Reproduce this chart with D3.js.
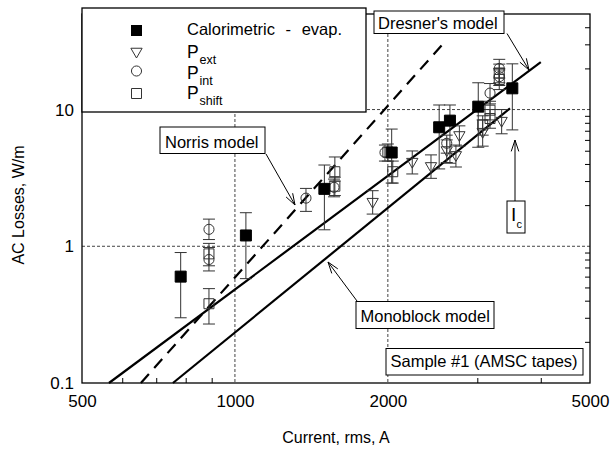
<!DOCTYPE html>
<html><head><meta charset="utf-8">
<script src="https://cdn.jsdelivr.net/npm/d3@7"></script>
<style>body{margin:0;background:#fff}svg{display:block}text{font-family:"Liberation Sans",Arial,sans-serif;fill:#000}</style>
</head><body><svg id="c" width="612" height="450"></svg>
<script>
// ---- data ----
const xTicks=[500,1000,2000,5000];
const yTicks=[0.1,1,10];
const xGrid=[1000,2000];
const yGrid=[1,10];
const xMinor=[600,700,800,900,3000,4000];
const yMinor=[0.2,0.3,0.4,0.5,0.6,0.7,0.8,0.9,2,3,4,5,6,7,8,9,20,30,40];

// Calorimetric - evap. (filled squares)
const calI =[782,1051,1500,2035,2524,2650,3013,3516];
const calP =[0.60,1.20,2.63,4.85,7.42,8.30,10.5,14.3];
const calLo=[0.30,0.58,1.32,2.90,3.68,4.05,5.30,7.10];
const calHi=[0.90,1.76,3.93,7.20,10.8,10.8,15.7,21.6];
// P_ext (triangles)
const extI =[1867,2234,2432,2612,2723,2766,3074,3350];
const extP =[2.12,4.16,3.87,5.06,4.66,6.52,6.89,8.30];
const extLo=[1.72,3.38,3.14,4.10,3.80,5.40,5.40,6.65];
const extHi=[2.55,4.98,4.66,6.00,5.50,7.60,8.40,10.0];
// P_int (circles)
const intI =[889,889,1380,1567,1974,2612,3178,3314,3314];
const intP =[1.33,0.80,2.25,2.70,4.85,5.67,13.2,17.4,20.0];
const intLo=[1.12,0.66,1.80,2.30,4.20,4.80,11.0,15.0,17.0];
const intHi=[1.58,0.98,2.65,3.10,5.50,6.50,15.5,20.0,23.3];
// P_shift (open squares)
const shfI =[889,889,1573,1573,2000,2045,3074,3178,3178,3314,3314];
const shfP =[0.88,0.38,3.51,2.75,4.90,3.51,7.71,9.90,8.60,18.5,16.6];
const shfLo=[0.72,0.27,3.00,2.35,4.20,2.90,6.50,8.40,7.30,15.7,14.0];
const shfHi=[1.05,0.49,4.50,3.20,5.60,4.20,9.00,11.5,10.0,21.5,19.5];

// model lines
const dresnerI=[565,4000], dresnerP=[0.1,22.2];
const monoI=[755,3479], monoP=[0.1,10.2];
const norrisI=[653,2591], norrisP=[0.1,31.4];

// ---- chart ----
const svg=d3.select("#c");
const L=82,R=590,T=14,B=383;
const x=d3.scaleLog().domain([500,5000]).range([L,R]);
const y=d3.scaleLog().domain([0.1,50]).range([B,T]);
const g=svg.append("g");

// grid
g.selectAll(".gx").data(xGrid).join("line").attr("x1",d=>x(d)).attr("x2",d=>x(d)).attr("y1",T).attr("y2",B)
 .attr("stroke","#444").attr("stroke-width",1).attr("stroke-dasharray","3,2");
g.selectAll(".gy").data(yGrid).join("line").attr("y1",d=>y(d)).attr("y2",d=>y(d)).attr("x1",L).attr("x2",R)
 .attr("stroke","#444").attr("stroke-width",1).attr("stroke-dasharray","3,2");

// model lines
const line=d3.line().x(d=>x(d[0])).y(d=>y(d[1]));
function modelLine(I,P,dash){
  g.append("path").attr("d",line(d3.zip(I,P))).attr("fill","none").attr("stroke","#000")
   .attr("stroke-width",2.2).attr("stroke-dasharray",dash||null);
}
modelLine(dresnerI,dresnerP);
modelLine(monoI,monoP);
modelLine(norrisI,norrisP,"12,8");

// error bars + markers
function series(I,P,Lo,Hi,sym,size,fill,rot){
  const d=I.map((v,i)=>({i:v,p:P[i],lo:Lo[i],hi:Hi[i]}));
  const eg=g.append("g").attr("stroke","#333").attr("stroke-width",1);
  d.forEach(o=>{
    eg.append("line").attr("x1",x(o.i)).attr("x2",x(o.i)).attr("y1",y(o.lo)).attr("y2",y(o.hi));
    [o.lo,o.hi].forEach(v=>eg.append("line").attr("x1",x(o.i)-6).attr("x2",x(o.i)+6).attr("y1",y(v)).attr("y2",y(v)));
  });
  g.append("g").selectAll("path").data(d).join("path")
   .attr("d",d3.symbol(sym,size))
   .attr("transform",o=>`translate(${x(o.i)},${y(o.p)})${rot?" rotate(180)":""}`)
   .attr("fill",fill?"#000":"none").attr("stroke",fill?"#000":"#333").attr("stroke-width",1);
}
series(shfI,shfP,shfLo,shfHi,d3.symbolSquare,100,false);
series(intI,intP,intLo,intHi,d3.symbolCircle,80,false);
series(extI,extP,extLo,extHi,d3.symbolTriangle,55,false,true);
series(calI,calP,calLo,calHi,d3.symbolSquare,121,true);

// frame
g.append("rect").attr("x",L).attr("y",T).attr("width",R-L).attr("height",B-T).attr("fill","none").attr("stroke","#000").attr("stroke-width",1.3);

// minor ticks
g.append("g").attr("transform",`translate(0,${B})`).call(d3.axisBottom(x).tickValues(xMinor).tickSize(-5).tickFormat(""))
 .call(a=>a.select(".domain").remove());
g.append("g").attr("transform",`translate(${R},0)`).call(d3.axisLeft(y).tickValues(yMinor).tickSize(5).tickFormat(""))
 .call(a=>a.select(".domain").remove());

// tick labels
const xa=g.append("g").attr("transform",`translate(0,${B})`).call(d3.axisBottom(x).tickValues(xTicks).tickSize(0).tickPadding(12).tickFormat(d3.format("d")));
xa.select(".domain").remove();
xa.selectAll("text").attr("font-size",17).attr("font-family","Liberation Sans, Arial, sans-serif").attr("fill","#000");
const ya=g.append("g").attr("transform",`translate(${L},0)`).call(d3.axisLeft(y).tickValues(yTicks).tickSize(0).tickPadding(8).tickFormat(d=>String(d)));
ya.select(".domain").remove();
ya.selectAll("text").attr("font-size",17).attr("font-family","Liberation Sans, Arial, sans-serif").attr("fill","#000");

// axis titles
svg.append("text").attr("x",(L+R)/2).attr("y",443).attr("text-anchor","middle").attr("font-size",16).text("Current, rms, A");
svg.append("text").attr("transform","translate(24,205) rotate(-90)").attr("text-anchor","middle").attr("font-size",16).text("AC Losses, W/m");

// legend
const lg=svg.append("g");
lg.append("rect").attr("x",L).attr("y",8).attr("width",284).attr("height",104).attr("fill","#fff").attr("stroke","#000").attr("stroke-width",1.3);
const lx=136.5;
lg.append("path").attr("d",d3.symbol(d3.symbolSquare,121)()).attr("transform",`translate(${lx},30.5)`).attr("fill","#000");
lg.append("path").attr("d",d3.symbol(d3.symbolTriangle,55)()).attr("transform",`translate(${lx},51.5) rotate(180)`).attr("fill","none").attr("stroke","#333");
lg.append("path").attr("d",d3.symbol(d3.symbolCircle,80)()).attr("transform",`translate(${lx},71)`).attr("fill","none").attr("stroke","#333");
lg.append("path").attr("d",d3.symbol(d3.symbolSquare,100)()).attr("transform",`translate(${lx},93.5)`).attr("fill","none").attr("stroke","#333");
lg.append("text").attr("x",187).attr("y",35).attr("font-size",16.5).style("word-spacing","6px").text("Calorimetric - evap.");
[["ext",58,64],["int",79,85],["shift",99,105]].forEach(([s,by,sy])=>{
  lg.append("text").attr("x",187).attr("y",by).attr("font-size",17.5).text("P");
  lg.append("text").attr("x",199.5).attr("y",sy).attr("font-size",12.5).text(s);
});

// annotation boxes
function box(x0,y0,w,h,txt,tx,ty){
  svg.append("rect").attr("x",x0).attr("y",y0).attr("width",w).attr("height",h).attr("fill","#fff").attr("stroke","#000").attr("stroke-width",1);
  if(txt) svg.append("text").attr("x",tx).attr("y",ty).attr("font-size",16.5).text(txt);
}
function arrow(x1,y1,x2,y2){
  const a=svg.append("g").attr("stroke","#000").attr("stroke-width",1).attr("fill","none");
  a.append("line").attr("x1",x1).attr("y1",y1).attr("x2",x2).attr("y2",y2);
  const ang=Math.atan2(y1-y2,x1-x2), len=12, sp=0.32;
  [ang-sp,ang+sp].forEach(t=>a.append("line").attr("x1",x2).attr("y1",y2).attr("x2",x2+len*Math.cos(t)).attr("y2",y2+len*Math.sin(t)));
}
box(374,11,130,22.5,"Dresner's model",378,29);
arrow(507,33.5,529,70);
box(160,127,105,26.5,"Norris model",165,147.5);
arrow(266,154,295,205);
box(356,301.5,138,27,"Monoblock model",360.5,321.5);
arrow(357,301,328,262);
box(386,348.5,197,26.5,"Sample #1 (AMSC tapes)",390.5,367);
box(507,201,18,32);
svg.append("text").attr("x",511).attr("y",221).attr("font-size",19).text("I");
svg.append("text").attr("x",516.5).attr("y",228).attr("font-size",11).text("c");
arrow(515,201,515,140);
</script></body></html>
